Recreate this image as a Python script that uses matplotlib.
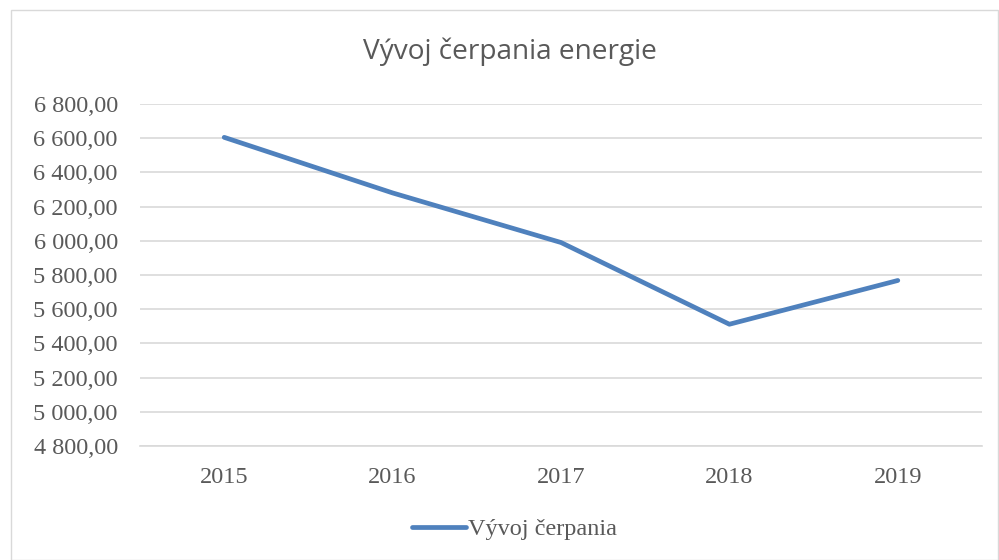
import matplotlib.pyplot as plt
from matplotlib.patches import Rectangle
from matplotlib.ticker import FuncFormatter, MultipleLocator

# Data
years = ['2015', '2016', '2017', '2018', '2019']
values = [6605, 6280, 5990, 5512, 5768]
series_name = 'Vývoj čerpania'
title = 'Vývoj čerpania energie'

text_col = '#595959'
grid_col = '#D9D9D9'
line_col = '#4F81BD'


def fmt(v, pos):
    s = '{:,.2f}'.format(v)
    return s.replace(',', ' ').replace('.', ',')


fig = plt.figure(figsize=(9.99, 5.6), dpi=100)
# chart area border
fig.patches.append(Rectangle((11 / 999, 0), 987 / 999, 550 / 560, transform=fig.transFigure,
                             fill=False, edgecolor=grid_col, linewidth=1))

ax = fig.add_axes([140 / 999, 1 - 446 / 560, 842 / 999, 342 / 560])
x = range(len(years))
ax.plot(x, values, color=line_col, linewidth=3.4, solid_capstyle='round',
        solid_joinstyle='round', label=series_name)

ax.set_xlim(-0.5, len(years) - 0.5)
ax.set_ylim(4800, 6800)
ax.yaxis.set_major_locator(MultipleLocator(200))
ax.yaxis.set_major_formatter(FuncFormatter(fmt))
ax.set_xticks(list(x))
ax.set_xticklabels(years)

ax.grid(axis='y', color=grid_col, linewidth=1.2)
ax.set_axisbelow(True)
for s in ['top', 'right', 'left']:
    ax.spines[s].set_visible(False)
ax.spines['bottom'].set_color(grid_col)
ax.spines['bottom'].set_linewidth(1.2)
ax.tick_params(length=0, colors=text_col, labelsize=17.5)
ax.tick_params(axis='y', pad=16)
ax.tick_params(axis='x', pad=15)
for lab in ax.get_xticklabels() + ax.get_yticklabels():
    lab.set_family('Liberation Serif')

fig.text(0.51, 1 - 52 / 560, title, ha='center', va='center', fontsize=20.2,
         color=text_col, family='Open Sans')

leg = ax.legend(loc='center', bbox_to_anchor=(0.515, 1 - 529 / 560), bbox_transform=fig.transFigure,
                frameon=False, handlelength=2.2, handletextpad=0.1,
                prop={'family': 'Liberation Serif', 'size': 17.5})
for t in leg.get_texts():
    t.set_color(text_col)

fig.savefig('out.png', dpi=100)
